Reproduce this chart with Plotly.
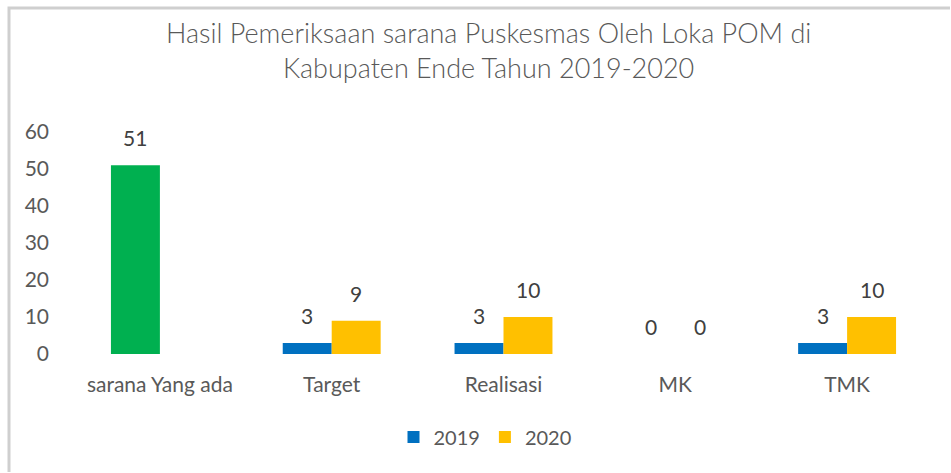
import plotly.graph_objects as go

categories = ["sarana Yang ada", "Target", "Realisasi", "MK", "TMK"]
values_sarana = [51, None, None, None, None]
values_2019 = [None, 3, 3, 0, 3]
values_2020 = [None, 9, 10, 0, 10]
y_ticks = [0, 10, 20, 30, 40, 50, 60]

W, H = 951, 473
ML, MR, MT, MB = 74, 18, 132, 119
FONT = "Lato"
GREY = "#595959"

fig = go.Figure()
# the "sarana Yang ada" total shares the 2019 slot but is coloured green
fig.add_trace(go.Bar(name="sarana", x=categories, y=values_sarana, offsetgroup="a",
                     marker=dict(color="#00B050", line_width=0), showlegend=False))
fig.add_trace(go.Bar(name="2019", x=categories, y=values_2019, offsetgroup="a",
                     marker=dict(color="#0070C0", line_width=0)))
fig.add_trace(go.Bar(name="2020", x=categories, y=values_2020, offsetgroup="b",
                     marker=dict(color="#FFC000", line_width=0)))

# value labels above each bar
annotations = []
first = [v if v is not None else values_sarana[i] for i, v in enumerate(values_2019)]
for vals, shift in ((first, -0.143), (values_2020, 0.143)):
    for i, v in enumerate(vals):
        if v is None:
            continue
        annotations.append(dict(
            x=i + shift, y=v, xref="x", yref="y", text=str(v), showarrow=False,
            yanchor="bottom", yshift=13, font=dict(family=FONT, size=21, color="#404040")))

plot_h = H - MT - MB
plot_w = W - ML - MR

# chart title, two centred lines
annotations.append(dict(
    text="Hasil Pemeriksaan sarana Puskesmas Oleh Loka POM di<br>Kabupaten Ende Tahun 2019-2020",
    xref="paper", yref="paper", x=(488 - ML) / plot_w, y=(H - MB - 50) / plot_h,
    xanchor="center", yanchor="middle", showarrow=False, align="center",
    font=dict(family=FONT, size=27, color=GREY, weight=300)))

# chart frame: only its top and left edges fall inside the page
def px_x(px):
    return (px - ML) / plot_w

def px_y(px):
    return (H - MB - px) / plot_h

frame_path = "M {x0},{y1} L {x0},{y0} L {x1},{y0}".format(
    x0=px_x(9), y0=px_y(8), x1=px_x(W - 1), y1=px_y(H - 1))
shapes = [
    dict(type="path", xref="paper", yref="paper", path=frame_path,
         line=dict(color="#CFCFCF", width=3), layer="above"),
]

fig.update_layout(
    width=W, height=H,
    margin=dict(l=ML, r=MR, t=MT, b=MB),
    paper_bgcolor="white", plot_bgcolor="white",
    barmode="group", bargap=0.43, bargroupgap=0,
    font=dict(family=FONT, color=GREY, size=21),
    xaxis=dict(showgrid=False, showline=False, zeroline=False, ticks="",
               tickfont=dict(size=21, color=GREY), ticklabelstandoff=16),
    yaxis=dict(range=[0, 60], tickvals=y_ticks, showgrid=False, showline=False,
               zeroline=False, ticks="", tickfont=dict(size=21, color=GREY),
               ticklabelstandoff=24),
    legend=dict(orientation="h", x=(485 - ML) / plot_w, xanchor="center",
                y=-(437 - (H - MB)) / plot_h, yanchor="middle",
                font=dict(size=20, color=GREY), itemwidth=30, traceorder="normal"),
    annotations=annotations,
    shapes=shapes,
)

fig.write_html("out.html")
